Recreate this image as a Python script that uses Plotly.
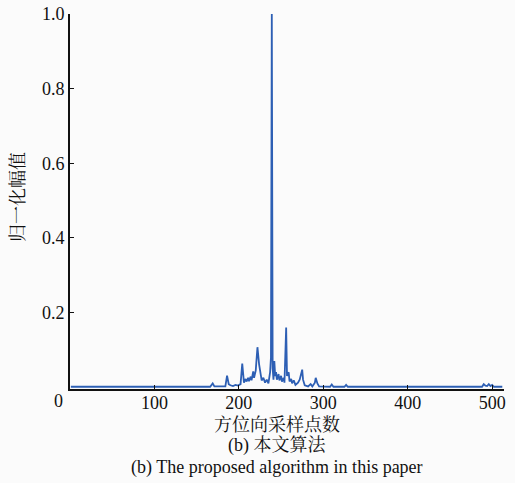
import plotly.graph_objects as go

# Azimuth sample index and normalised amplitude
sample_idx = [1, 166, 169, 171, 184, 186, 188, 190, 193, 196, 199, 202, 204, 206, 208, 209,
              211, 212, 214, 215, 217, 218, 220, 222, 224, 226, 227, 229, 231, 233, 235, 237,
              238, 239, 240, 241, 242, 243, 244, 245, 247, 248, 250, 251, 253, 254, 256, 257,
              259, 260, 262, 263, 265, 267, 270, 272, 274, 275, 276, 278, 282, 285, 287, 290,
              291, 293, 295, 308, 310, 312, 325, 327, 329, 488, 490, 492, 494, 496, 498, 500,
              502, 512]
amplitude = [0.001, 0.001, 0.010, 0.002, 0.002, 0.031, 0.008, 0.005, 0.003, 0.006, 0.004, 0.008,
             0.063, 0.012, 0.022, 0.015, 0.025, 0.016, 0.028, 0.018, 0.042, 0.025, 0.045, 0.107,
             0.060, 0.035, 0.018, 0.025, 0.012, 0.020, 0.010, 0.040, 0.080, 1.000, 0.050, 0.020,
             0.070, 0.030, 0.040, 0.020, 0.035, 0.018, 0.030, 0.015, 0.025, 0.012, 0.160, 0.030,
             0.040, 0.015, 0.022, 0.010, 0.018, 0.006, 0.012, 0.020, 0.035, 0.047, 0.020, 0.005,
             0.002, 0.008, 0.002, 0.012, 0.025, 0.010, 0.002, 0.001, 0.007, 0.001, 0.001, 0.006,
             0.001, 0.001, 0.008, 0.004, 0.003, 0.008, 0.003, 0.006, 0.001, 0.001]

x_ticks = [100, 200, 300, 400, 500]
y_ticks = [0.2, 0.4, 0.6, 0.8, 1.0]
y_tick_text = ["0.2", "0.4", "0.6", "0.8", "1.0"]

x_title = "方位向采样点数"
y_title = "归一化幅值"
caption_cn = "(b) 本文算法"
caption_en = "(b) The proposed algorithm in this paper"

W, H = 515, 483
L, R, T, B = 70, 11, 14, 94
pw, ph = W - L - R, H - T - B


def px(x):
    return (x - L) / pw


def py(y):
    return (H - B - y) / ph


FONT = "Liberation Serif, Times New Roman, Noto Serif CJK SC, Noto Sans CJK SC, serif"

fig = go.Figure()
fig.add_trace(go.Scatter(x=sample_idx, y=amplitude, mode="lines",
                         line=dict(color="#2d5fb4", width=1.8), hoverinfo="skip"))

fig.update_layout(
    width=W, height=H,
    margin=dict(l=L, r=R, t=T, b=B, autoexpand=False),
    paper_bgcolor="#fbfbfb", plot_bgcolor="#fbfbfb",
    showlegend=False,
    font=dict(family=FONT, size=18, color="#111"),
    xaxis=dict(range=[0, 514], tickvals=x_ticks, ticks="inside", ticklen=4,
               tickcolor="#111", showgrid=False, zeroline=False, showline=True,
               linecolor="#111", linewidth=2, automargin=False,
               ticklabelstandoff=-4,
               tickfont=dict(family=FONT, size=18)),
    yaxis=dict(range=[-0.005, 1.0], tickvals=y_ticks, ticktext=y_tick_text,
               ticks="inside", ticklen=4, tickcolor="#111", showgrid=False,
               zeroline=False, showline=True, linecolor="#111", linewidth=2,
               automargin=False, tickfont=dict(family=FONT, size=18)),
)

ann = [
    dict(text="0", x=px(58), y=py(401)),
    dict(text=y_title, x=px(18), y=py(197), textangle=-90),
    dict(text=x_title, x=px(277), y=py(425)),
    dict(text=caption_cn, x=px(277), y=py(446)),
    dict(text=caption_en, x=px(277), y=py(467)),
]
for a in ann:
    fig.add_annotation(xref="paper", yref="paper", showarrow=False,
                       xanchor="center", yanchor="middle",
                       font=dict(family=FONT, size=18, color="#111"), **a)

fig.write_html("out.html", config={"displayModeBar": False},
               post_script="document.body.style.margin='0';document.body.style.overflow='hidden';")
